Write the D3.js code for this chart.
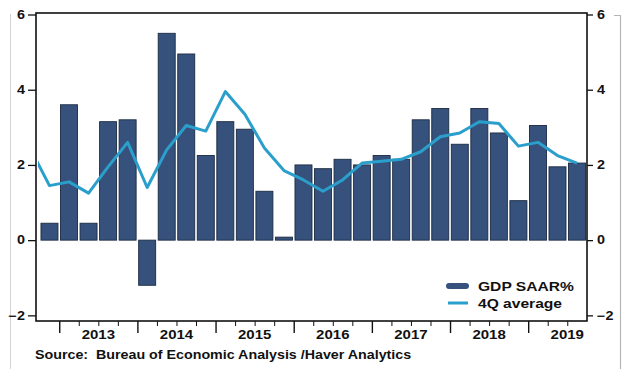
<!DOCTYPE html>
<html>
<head>
<meta charset="utf-8">
<script src="https://cdn.jsdelivr.net/npm/d3@7"></script>
<style>
  html, body { margin: 0; padding: 0; background: #fff; }
  svg { display: block; font-family: "Liberation Sans", Arial, sans-serif; }
</style>
</head>
<body>
<svg id="chart" width="629" height="369"></svg>
<script>
// Quarterly US real GDP growth, 2012Q4 - 2019Q3
const quarters = [
  "2012Q4",
  "2013Q1", "2013Q2", "2013Q3", "2013Q4",
  "2014Q1", "2014Q2", "2014Q3", "2014Q4",
  "2015Q1", "2015Q2", "2015Q3", "2015Q4",
  "2016Q1", "2016Q2", "2016Q3", "2016Q4",
  "2017Q1", "2017Q2", "2017Q3", "2017Q4",
  "2018Q1", "2018Q2", "2018Q3", "2018Q4",
  "2019Q1", "2019Q2", "2019Q3"
];
const gdpSaar = [
  0.45,
  3.6, 0.45, 3.15, 3.2,
  -1.2, 5.5, 4.95, 2.25,
  3.15, 2.95, 1.3, 0.08,
  2.0, 1.9, 2.15, 2.0,
  2.25, 2.15, 3.2, 3.5,
  2.55, 3.5, 2.85, 1.05,
  3.05, 1.95, 2.05
];
// 4-quarter average; the first value belongs to 2012Q3 (runs in from the left edge)
const avgQuarters = ["2012Q3"].concat(quarters);
const avg4q = [
  2.45,
  1.45,
  1.55, 1.25, 1.95, 2.6,
  1.4, 2.4, 3.05, 2.9,
  3.95, 3.35, 2.45, 1.85,
  1.6, 1.3, 1.6, 2.05,
  2.1, 2.15, 2.35, 2.75,
  2.85, 3.15, 3.1, 2.5,
  2.6, 2.25, 2.05
];
const years = ["2013", "2014", "2015", "2016", "2017", "2018", "2019"];
const yTicks = [-2, 0, 2, 4, 6];
const legendLabels = ["GDP SAAR%", "4Q average"];
const sourceText = "Source:  Bureau of Economic Analysis /Haver Analytics";

const svg = d3.select("#chart");
const frame = { left: 36, right: 587, top: 13, bottom: 321 };
const barColor = "#36527c";
const barEdge = "#1b2a42";
const lineColor = "#2b9fcc";
const ink = "#111";
const stretch = 1.2;

// x: quarter slots, each slot one unit wide (index i spans [i, i+1])
const x = d3.scaleLinear().domain([0, quarters.length]).range([39.7, 586.8]);
const qIndex = q => quarters.indexOf(q);
const y = d3.scaleLinear().domain([-2.15, 6.04]).range([frame.bottom, frame.top]);

function putText(sel, tx, ty) {
  return sel.attr("transform", `translate(${tx},${ty}) scale(${stretch},1)`);
}

// faint panel border
svg.append("line").attr("x1", 10.5).attr("x2", 10.5).attr("y1", 14).attr("y2", 369)
  .attr("stroke", "#d4d4d4").attr("stroke-width", 1);
svg.append("path").attr("d", "M614,15.5H620.5V369")
  .attr("fill", "none").attr("stroke", "#b5b5b5").attr("stroke-width", 1.2);

// bars
const pad = 0.065;
svg.append("g").selectAll("rect")
  .data(quarters)
  .join("rect")
  .attr("x", (q, i) => x(i + pad))
  .attr("width", (q, i) => x(i + 1 - pad) - x(i + pad))
  .attr("y", (q, i) => y(Math.max(0, gdpSaar[i])))
  .attr("height", (q, i) => Math.abs(y(gdpSaar[i]) - y(0)))
  .attr("fill", barColor)
  .attr("stroke", barEdge)
  .attr("stroke-width", 0.9);

// 4Q average line, clipped to the plot frame
svg.append("clipPath").attr("id", "plotClip")
  .append("rect")
  .attr("x", frame.left + 2).attr("y", frame.top)
  .attr("width", frame.right - frame.left - 2).attr("height", frame.bottom - frame.top);

const line = d3.line()
  .x((v, i) => x(i - 1 + 0.5))
  .y(v => y(v));
svg.append("path")
  .datum(avg4q)
  .attr("clip-path", "url(#plotClip)")
  .attr("d", line)
  .attr("fill", "none")
  .attr("stroke", lineColor)
  .attr("stroke-width", 3)
  .attr("stroke-linejoin", "round");

// frame
svg.append("rect")
  .attr("x", frame.left).attr("y", frame.top)
  .attr("width", frame.right - frame.left).attr("height", frame.bottom - frame.top)
  .attr("fill", "none").attr("stroke", ink).attr("stroke-width", 1.6);

// y axes (left and right)
function styleYAxis(g, side) {
  g.select(".domain").remove();
  g.selectAll(".tick line").attr("stroke", ink).attr("stroke-width", 1.3);
  g.selectAll(".tick text").each(function () {
    const t = d3.select(this);
    const tx = side === "left" ? -11 : 10;
    t.attr("x", 0);
    putText(t, tx, 0);
  })
    .attr("fill", ink)
    .attr("font-size", 12)
    .attr("font-weight", "bold");
}
svg.append("g")
  .attr("transform", `translate(${frame.left},0)`)
  .call(d3.axisLeft(y).tickValues(yTicks).tickSize(8).tickFormat(d3.format("d")))
  .call(g => styleYAxis(g, "left"));
svg.append("g")
  .attr("transform", `translate(${frame.right},0)`)
  .call(d3.axisRight(y).tickValues(yTicks).tickSize(6).tickFormat(d3.format("d")))
  .call(g => styleYAxis(g, "right"));

// x axis: quarter boundaries (minor) and year boundaries (major)
const boundaries = d3.range(1, quarters.length);
const yearStarts = boundaries.filter(i => quarters[i].endsWith("Q1"));
const minor = boundaries.filter(i => !yearStarts.includes(i));
svg.append("g")
  .attr("transform", `translate(0,${frame.bottom})`)
  .call(d3.axisBottom(x).tickValues(minor).tickSize(5).tickFormat(""))
  .call(g => g.select(".domain").remove())
  .call(g => g.selectAll(".tick line").attr("stroke", ink).attr("stroke-width", 1));
svg.append("g")
  .attr("transform", `translate(0,${frame.bottom})`)
  .call(d3.axisBottom(x).tickValues(yearStarts).tickSize(12).tickFormat(""))
  .call(g => g.select(".domain").remove())
  .call(g => g.selectAll(".tick line").attr("stroke", ink).attr("stroke-width", 1.4));

// year labels centred on each year's four quarters
svg.append("g").selectAll("text")
  .data(years)
  .join("text")
  .each(function (yr) {
    const i0 = qIndex(yr + "Q1");
    putText(d3.select(this), x(i0 + 2), 339);
  })
  .attr("text-anchor", "middle")
  .attr("font-size", 12.5)
  .attr("font-weight", "bold")
  .attr("fill", ink)
  .text(d => d);

// legend
const legend = svg.append("g");
legend.append("line")
  .attr("x1", 449).attr("x2", 466).attr("y1", 286).attr("y2", 286)
  .attr("stroke", barColor).attr("stroke-width", 6).attr("stroke-linecap", "round");
legend.append("line")
  .attr("x1", 448).attr("x2", 468).attr("y1", 303).attr("y2", 303)
  .attr("stroke", lineColor).attr("stroke-width", 3);
legend.selectAll("text")
  .data(legendLabels)
  .join("text")
  .each(function (d, i) { putText(d3.select(this), 478, 290.5 + i * 17.5); })
  .attr("font-size", 13)
  .attr("font-weight", "bold")
  .attr("fill", ink)
  .text(d => d);

// source note
svg.append("text")
  .call(t => t.attr("transform", `translate(35,359) scale(1.19,1)`))
  .attr("font-size", 12)
  .attr("font-weight", "bold")
  .attr("fill", ink)
  .attr("xml:space", "preserve")
  .style("white-space", "pre")
  .text(sourceText);
</script>
</body>
</html>
